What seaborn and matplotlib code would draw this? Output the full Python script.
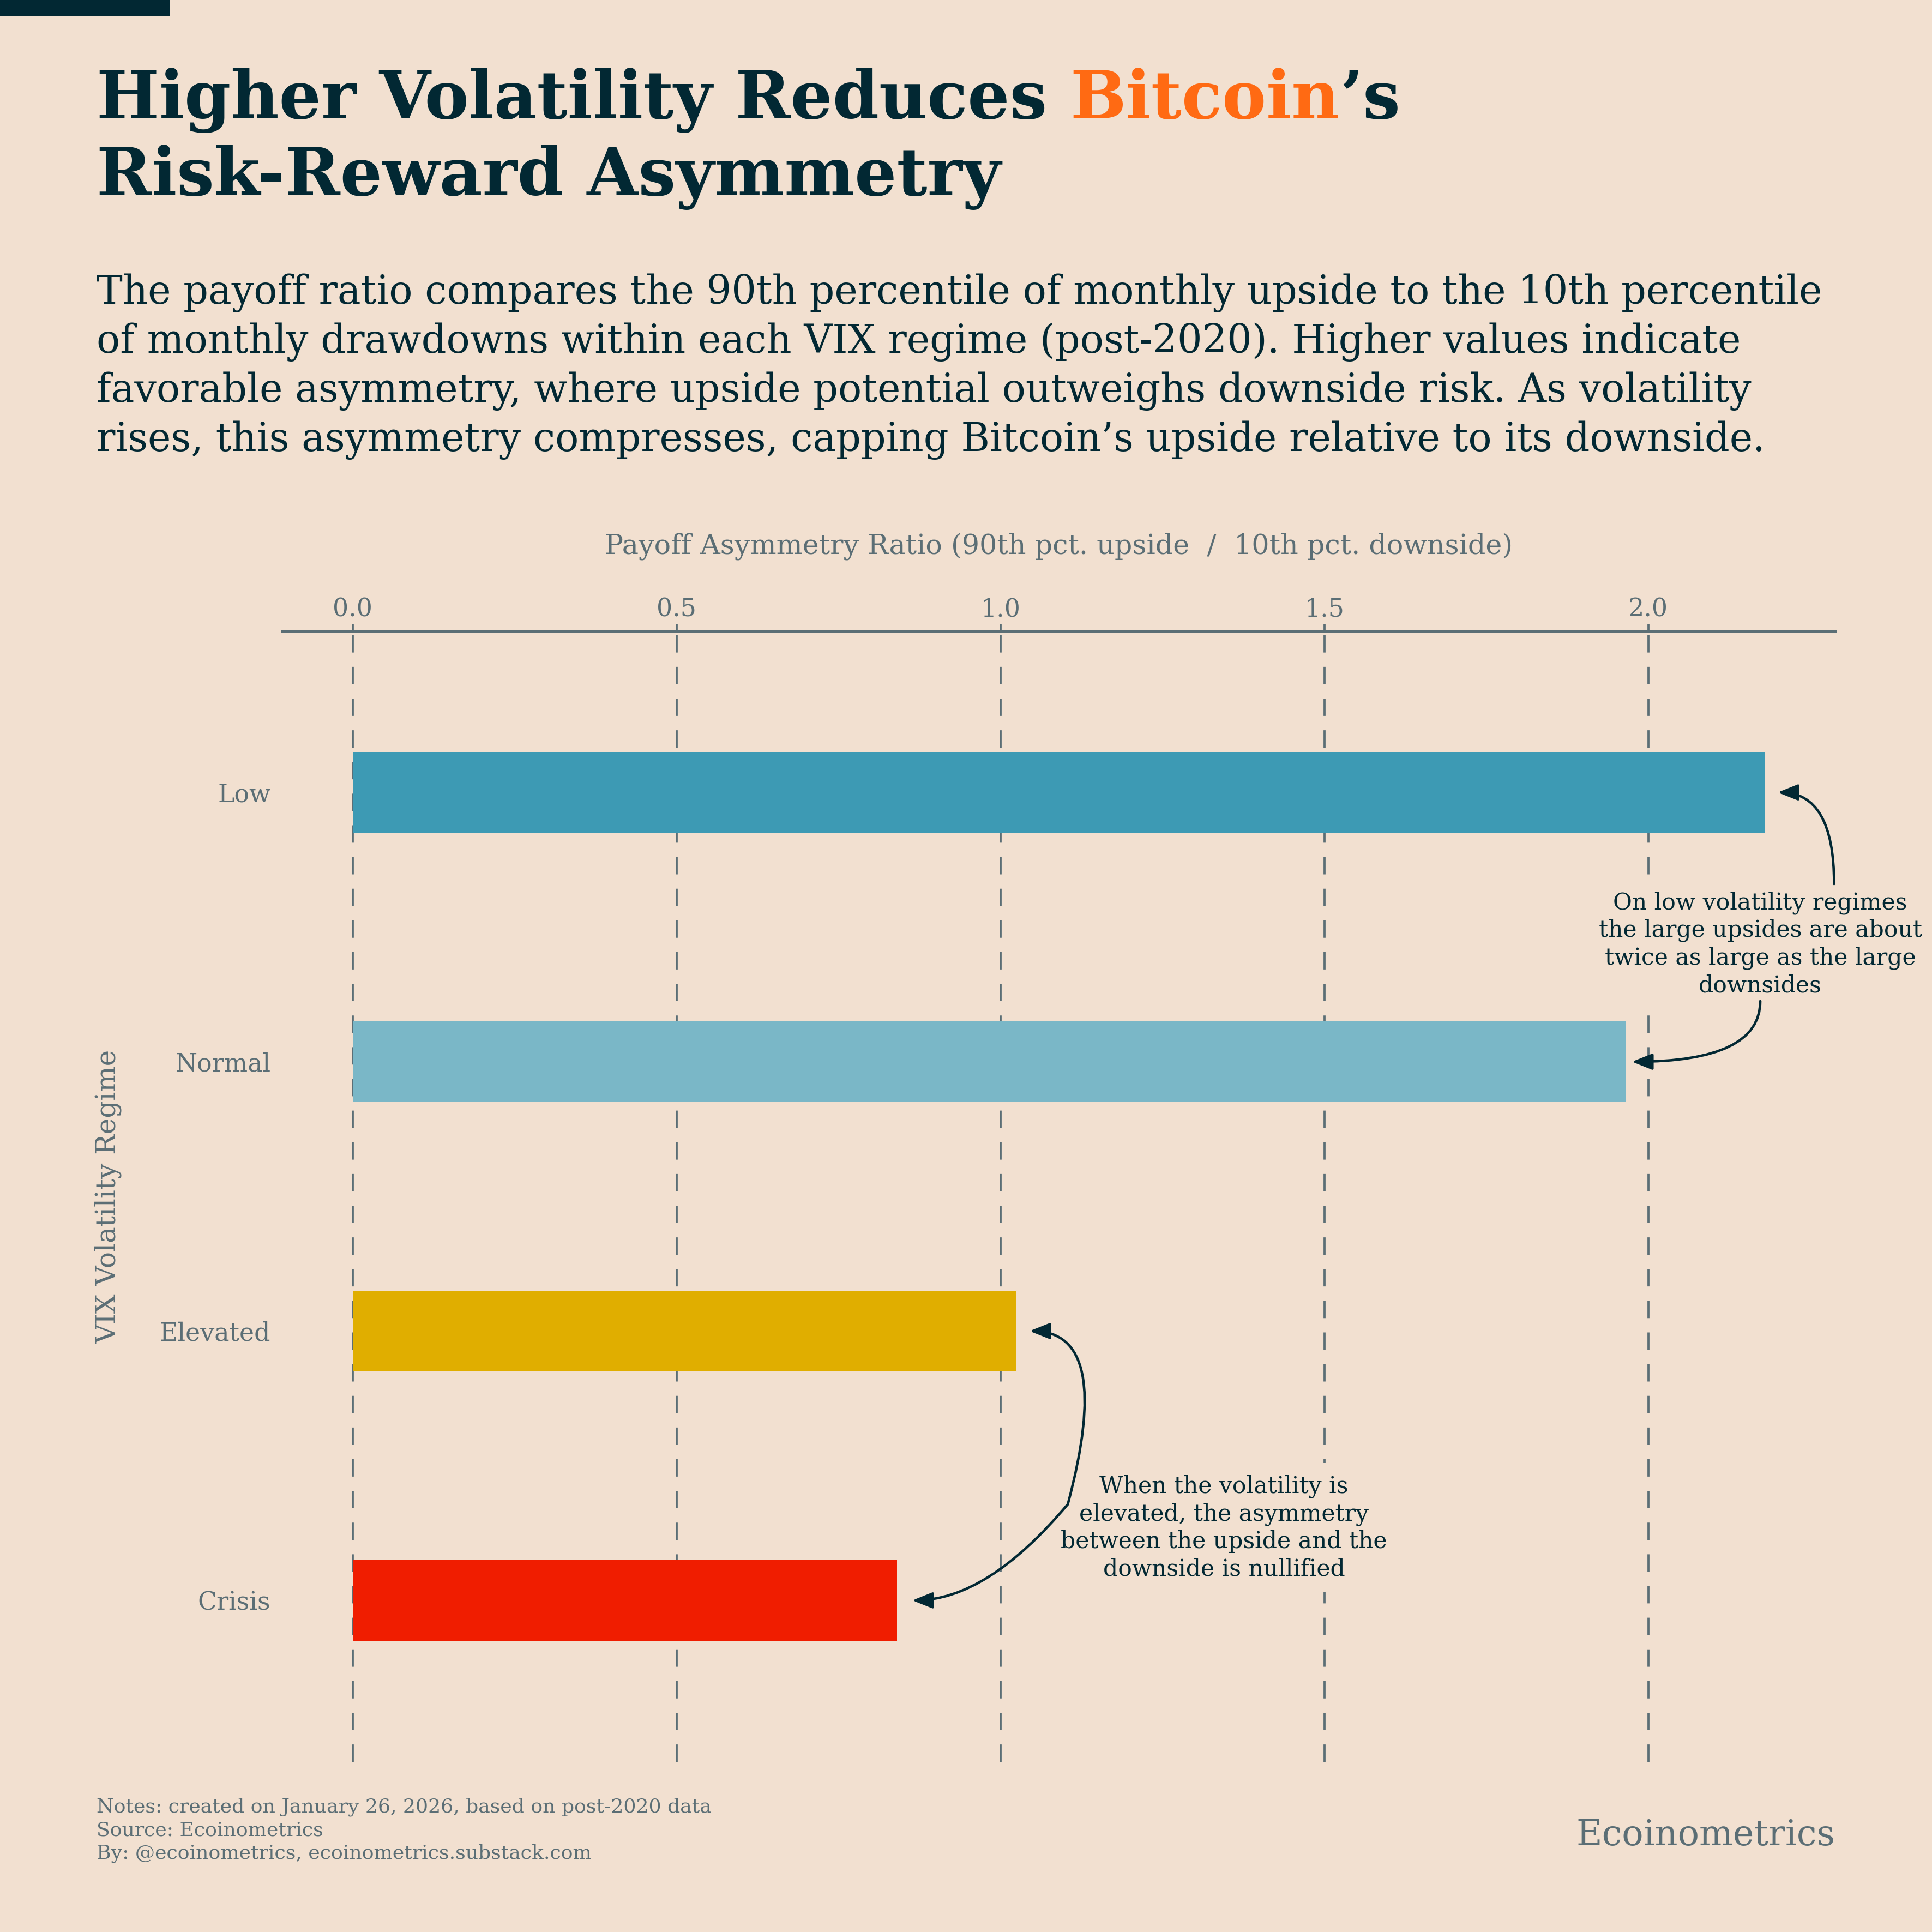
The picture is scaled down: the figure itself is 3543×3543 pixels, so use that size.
import matplotlib
matplotlib.use("Agg")
import matplotlib.pyplot as plt
from matplotlib.patches import Rectangle
import seaborn as sns
import pandas as pd

# ---- data ----
categories = ["Low", "Normal", "Elevated", "Crisis"]
payoff_ratio = [2.18, 1.965, 1.025, 0.84]
bar_colors = ["#3d9ab4", "#7ab7c7", "#e0ae00", "#f01d00"]
x_ticks = [0.0, 0.5, 1.0, 1.5, 2.0]
x_tick_labels = ["0.0", "0.5", "1.0", "1.5", "2.0"]

title_a = "Higher Volatility Reduces "
title_b = "Bitcoin"
title_c = "\u2019s"
title_2 = "Risk-Reward Asymmetry"
subtitle = ("The payoff ratio compares the 90th percentile of monthly upside to the 10th percentile\n"
            "of monthly drawdowns within each VIX regime (post-2020). Higher values indicate\n"
            "favorable asymmetry, where upside potential outweighs downside risk. As volatility\n"
            "rises, this asymmetry compresses, capping Bitcoin\u2019s upside relative to its downside.")
x_label = "Payoff Asymmetry Ratio (90th pct. upside  /  10th pct. downside)"
y_label = "VIX Volatility Regime"
note_low = "On low volatility regimes\nthe large upsides are about\ntwice as large as the large\ndownsides"
note_high = "When the volatility is\nelevated, the asymmetry\nbetween the upside and the\ndownside is nullified"
footer = ("Notes: created on January 26, 2026, based on post-2020 data\n"
          "Source: Ecoinometrics\n"
          "By: @ecoinometrics, ecoinometrics.substack.com")
brand = "Ecoinometrics"

BG = "#f2e0d0"
DARK = "#022833"
GRAY = "#5b6e75"
ORANGE = "#ff6a13"

sns.set_style("white")
plt.rcParams["font.family"] = ["DejaVu Serif"]
plt.rcParams["axes.facecolor"] = BG
plt.rcParams["figure.facecolor"] = BG

fig = plt.figure(figsize=(3543 / 300, 3543 / 300), dpi=300)
ax = fig.add_axes([0.146, 0.088, 0.804, 0.5855])
ax.set_facecolor(BG)

df = pd.DataFrame({"regime": categories, "ratio": payoff_ratio})
sns.barplot(data=df, x="ratio", y="regime", hue="regime", order=categories,
            hue_order=categories, palette=bar_colors, width=0.3, saturation=1,
            legend=False, ax=ax, linewidth=0, edgecolor="none")

vmax = max(payoff_ratio)
ax.set_xlim(-0.05 * vmax, 1.05 * vmax)
ax.set_ylim(3.6, -0.6)
ax.set_axisbelow(True)

ax.xaxis.tick_top()
ax.xaxis.set_label_position("top")
ax.set_xticks(x_ticks, x_tick_labels)
ax.tick_params(axis="x", direction="out", length=3, width=0.9, color=GRAY,
               labelcolor=GRAY, labelsize=11, pad=1)
ax.tick_params(axis="y", length=0, pad=5, labelsize=11, labelcolor=GRAY)
ax.set_xlabel(x_label, color=GRAY, fontsize=12.2, labelpad=19)
ax.set_ylabel(y_label, color=GRAY, fontsize=12)
ax.yaxis.set_label_coords(-0.103, 0.5)

for s in ["left", "right", "bottom"]:
    ax.spines[s].set_visible(False)
ax.spines["top"].set_color(GRAY)
ax.spines["top"].set_linewidth(1.2)
ax.grid(axis="x", color=GRAY, linestyle=(0, (8.5, 7)), linewidth=0.9)
ax.grid(axis="y", visible=False)

# ---- annotations ----
box = dict(facecolor=BG, edgecolor="none", pad=5)
ax.text(2.173, 0.563, note_low, ha="center", va="center", fontsize=10.2,
        color=DARK, linespacing=1.25, bbox=box, zorder=4)
ax.text(1.345, 2.73, note_high, ha="center", va="center", fontsize=10.2,
        color=DARK, linespacing=1.25, bbox=box, zorder=4)

arrow_kw = dict(arrowstyle="-|>,head_length=0.75,head_width=0.3", color=DARK,
                lw=1.1, shrinkA=0, shrinkB=0)
ax.annotate("", xy=(payoff_ratio[0] + 0.02, 0.0), xytext=(2.287, 0.34), zorder=6,
            arrowprops=dict(connectionstyle="angle3,angleA=90,angleB=0", **arrow_kw))
ax.annotate("", xy=(payoff_ratio[1] + 0.01, 1.0), xytext=(2.173, 0.775), zorder=6,
            arrowprops=dict(connectionstyle="angle3,angleA=90,angleB=0", **arrow_kw))
ax.annotate("", xy=(payoff_ratio[2] + 0.02, 2.0), xytext=(1.104, 2.643), zorder=6,
            arrowprops=dict(connectionstyle="angle3,angleA=75,angleB=0", **arrow_kw))
ax.annotate("", xy=(payoff_ratio[3] + 0.024, 3.0), xytext=(1.104, 2.643), zorder=6,
            arrowprops=dict(connectionstyle="angle3,angleA=50,angleB=0", **arrow_kw))

# ---- header ----
fig.add_artist(Rectangle((0, 1 - 30 / 3543), 312 / 3543, 30 / 3543,
                         transform=fig.transFigure, color=DARK, lw=0))
renderer = fig.canvas.get_renderer()
tkw = dict(fontsize=29.2, fontweight="bold", va="baseline")
t1 = fig.text(0.05, 0.9388, title_a, color=DARK, **tkw)
bb = t1.get_window_extent(renderer)
x1 = fig.transFigure.inverted().transform((bb.x1, 0))[0]
t2 = fig.text(x1, 0.9388, title_b, color=ORANGE, **tkw)
bb = t2.get_window_extent(renderer)
x2 = fig.transFigure.inverted().transform((bb.x1, 0))[0]
fig.text(x2, 0.9388, title_c, color=DARK, **tkw)
fig.text(0.05, 0.899, title_2, color=DARK, **tkw)

fig.text(0.05, 0.8584, subtitle, va="top", ha="left", fontsize=17.2,
         color=DARK, linespacing=1.33)

# ---- footer ----
fig.text(0.05, 0.0695, footer, va="top", ha="left", fontsize=8.7,
         color=GRAY, linespacing=1.3)
fig.text(0.95, 0.045, brand, va="baseline", ha="right", fontsize=15.7, color=GRAY)

fig.savefig("out.png", dpi=300, facecolor=BG)
